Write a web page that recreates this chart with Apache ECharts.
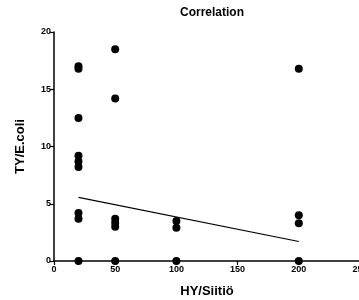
<!DOCTYPE html>
<html>
<head>
<meta charset="utf-8">
<script src="https://cdn.jsdelivr.net/npm/echarts@6/dist/echarts.min.js"></script>
<style>html,body{margin:0;padding:0;background:#fff}#c{width:359px;height:300px}</style>
</head>
<body>
<div id="c"></div>
<script>
var titleText = "Correlation";
var xName = "HY/Siitiö";
var yName = "TY/E.coli";
var xTicks = [0, 50, 100, 150, 200, 250];
var yTicks = [0, 5, 10, 15, 20];
var hyValues = [20, 20, 20, 20, 20, 20, 20, 20, 20, 50, 50, 50, 50, 50, 50, 100, 100, 100, 200, 200, 200, 200];
var tyValues = [17.0, 16.8, 12.5, 9.2, 8.7, 8.2, 4.2, 3.7, 0, 18.5, 14.2, 3.7, 3.35, 3.0, 0, 3.5, 2.9, 0, 16.8, 4.0, 3.3, 0];
var fitX = [20, 200];
var fitY = [5.55, 1.7];

var pts = hyValues.map(function (x, i) { return [x, tyValues[i]]; });
var fit = fitX.map(function (x, i) { return [x, fitY[i]]; });

var chart = echarts.init(document.getElementById('c'), null, {renderer: 'canvas'});
var font = '"Liberation Sans", Arial, sans-serif';
chart.setOption({
  animation: false,
  backgroundColor: '#fff',
  title: {
    text: titleText, left: 207, top: 2, textAlign: 'center',
    textStyle: {fontFamily: font, fontSize: 12, fontWeight: 'bold', color: '#000'}
  },
  grid: {left: 54, top: 32, width: 306, height: 229, containLabel: false, outerBoundsMode: 'none'},
  xAxis: {
    type: 'value', min: xTicks[0], max: xTicks[xTicks.length - 1], interval: 50,
    name: xName, nameLocation: 'middle', nameGap: 24,
    nameTextStyle: {fontFamily: font, fontSize: 13, fontWeight: 'bold', color: '#000'},
    axisLine: {show: true, onZero: false, lineStyle: {color: '#000', width: 1.5}},
    axisTick: {show: true, length: 4, lineStyle: {color: '#000', width: 1.2}},
    axisLabel: {fontFamily: font, fontSize: 9, fontWeight: 'bold', color: '#000', margin: 4},
    splitLine: {show: false}
  },
  yAxis: {
    type: 'value', min: yTicks[0], max: yTicks[yTicks.length - 1], interval: 5,
    name: yName, nameLocation: 'middle', nameGap: 27,
    nameTextStyle: {fontFamily: font, fontSize: 13, fontWeight: 'bold', color: '#000'},
    axisLine: {show: true, onZero: false, lineStyle: {color: '#000', width: 1.5}},
    axisTick: {show: true, length: 4, lineStyle: {color: '#000', width: 1.2}},
    axisLabel: {fontFamily: font, fontSize: 9, fontWeight: 'bold', color: '#000', margin: 3},
    splitLine: {show: false}
  },
  series: [
    {
      type: 'line', data: fit, symbol: 'none', silent: true,
      lineStyle: {color: '#000', width: 1.2}, z: 2
    },
    {
      type: 'scatter', data: pts, symbol: 'circle', symbolSize: 8,
      itemStyle: {color: '#000', opacity: 1}, z: 3
    }
  ]
});
</script>
</body>
</html>
